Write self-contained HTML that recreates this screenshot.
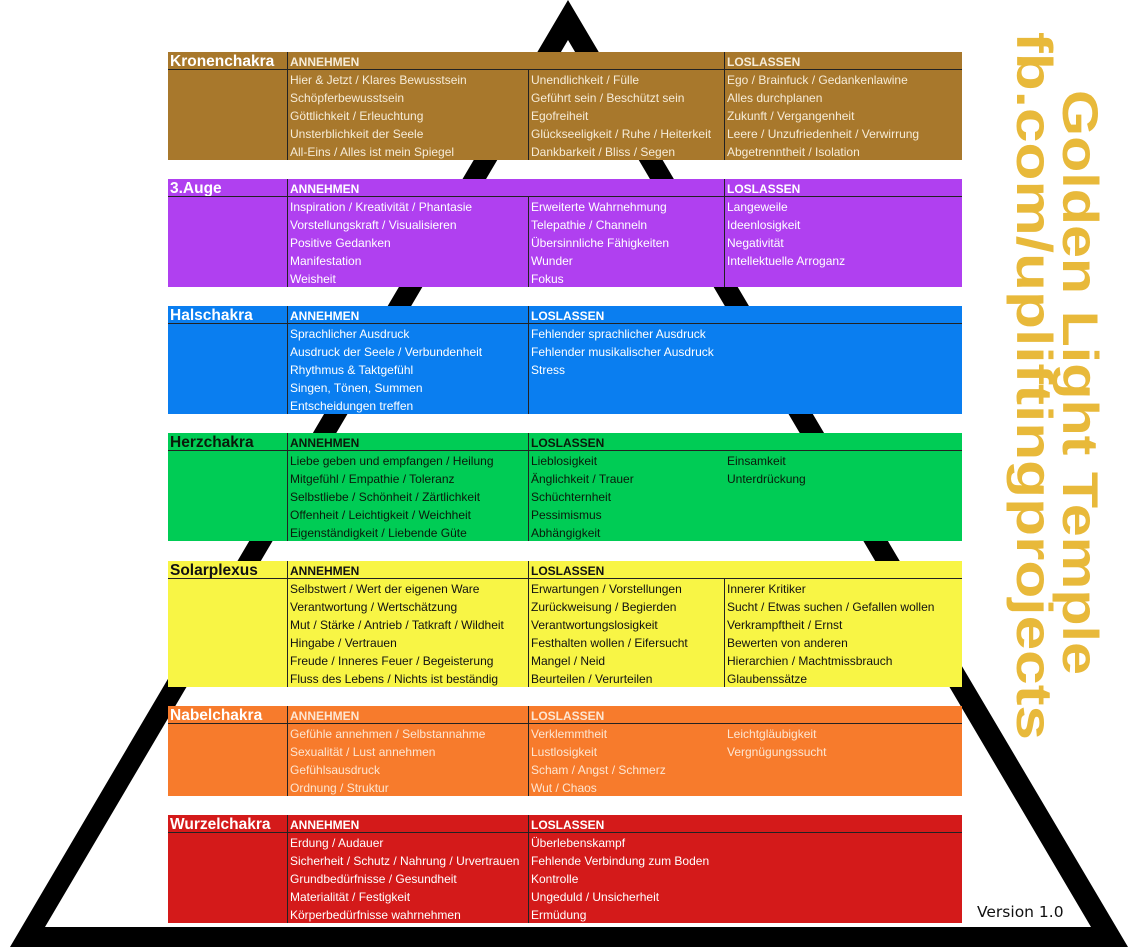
<!DOCTYPE html>
<html><head><meta charset="utf-8"><style>
html,body{margin:0;padding:0;background:#fff;width:1140px;height:947px;overflow:hidden;position:relative;font-family:"Liberation Sans",Arial,sans-serif}
.b{position:absolute;left:168px;width:794px}
.n{position:absolute;left:2px;top:1px;font-weight:bold;font-size:15.5px;line-height:18px;white-space:nowrap}
.h{position:absolute;top:1px;font-weight:bold;font-size:12px;line-height:18px}
.r{position:absolute;font-size:12px;line-height:18px;white-space:nowrap}
.hl{position:absolute;left:0;width:794px;top:17px;height:1px;background:#222}
.vl{position:absolute;width:1px;background:#222;bottom:0}
</style></head><body>
<svg width="1140" height="947" style="position:absolute;left:0;top:0">
<path fill="#000" fill-rule="evenodd" d="M568,0 L1128,947 L10,947 Z M568,40 L45,927 L1091,927 Z"/>
<text x="1063" y="90" fill="#e8b93a" font-family="Liberation Sans" font-weight="bold" font-size="50" transform="rotate(90 1063 90)" textLength="585" lengthAdjust="spacingAndGlyphs">Golden Light Temple</text>
<text x="1017" y="32" fill="#e8b93a" font-family="Liberation Sans" font-weight="bold" font-size="50" transform="rotate(90 1017 32)" textLength="708" lengthAdjust="spacingAndGlyphs">fb.com/upliftingprojects</text>
<text x="977" y="917" fill="#111" font-family="DejaVu Sans" font-size="15.5">Version 1.0</text>
</svg>

<!-- Kronen -->
<div class="b" style="top:52px;height:108px;background:#a8782c;color:#f6ecd8">
<div class="n" style="color:#fff">Kronenchakra</div>
<div class="h" style="left:122px">ANNEHMEN</div><div class="h" style="left:559px">LOSLASSEN</div>
<div class="hl"></div><div class="vl" style="left:119px;top:0"></div><div class="vl" style="left:360px;top:17px"></div><div class="vl" style="left:556px;top:0"></div>
<div class="r" style="left:122px;top:19px">Hier &amp; Jetzt / Klares Bewusstsein<br>Schöpferbewusstsein<br>Göttlichkeit / Erleuchtung<br>Unsterblichkeit der Seele<br>All-Eins / Alles ist mein Spiegel</div>
<div class="r" style="left:363px;top:19px">Unendlichkeit / Fülle<br>Geführt sein / Beschützt sein<br>Egofreiheit<br>Glückseeligkeit / Ruhe / Heiterkeit<br>Dankbarkeit / Bliss / Segen</div>
<div class="r" style="left:559px;top:19px">Ego / Brainfuck / Gedankenlawine<br>Alles durchplanen<br>Zukunft / Vergangenheit<br>Leere / Unzufriedenheit / Verwirrung<br>Abgetrenntheit / Isolation</div>
</div>

<!-- 3.Auge -->
<div class="b" style="top:179px;height:108px;background:#b040f0;color:#fff">
<div class="n">3.Auge</div>
<div class="h" style="left:122px">ANNEHMEN</div><div class="h" style="left:559px">LOSLASSEN</div>
<div class="hl"></div><div class="vl" style="left:119px;top:0"></div><div class="vl" style="left:360px;top:17px"></div><div class="vl" style="left:556px;top:0"></div>
<div class="r" style="left:122px;top:19px">Inspiration / Kreativität / Phantasie<br>Vorstellungskraft / Visualisieren<br>Positive Gedanken<br>Manifestation<br>Weisheit</div>
<div class="r" style="left:363px;top:19px">Erweiterte Wahrnehmung<br>Telepathie / Channeln<br>Übersinnliche Fähigkeiten<br>Wunder<br>Fokus</div>
<div class="r" style="left:559px;top:19px">Langeweile<br>Ideenlosigkeit<br>Negativität<br>Intellektuelle Arroganz</div>
</div>

<!-- Hals -->
<div class="b" style="top:306px;height:108px;background:#0a7ef0;color:#fff">
<div class="n">Halschakra</div>
<div class="h" style="left:122px">ANNEHMEN</div><div class="h" style="left:363px">LOSLASSEN</div>
<div class="hl"></div><div class="vl" style="left:119px;top:0"></div><div class="vl" style="left:360px;top:0"></div>
<div class="r" style="left:122px;top:19px">Sprachlicher Ausdruck<br>Ausdruck der Seele / Verbundenheit<br>Rhythmus &amp; Taktgefühl<br>Singen, Tönen, Summen<br>Entscheidungen treffen</div>
<div class="r" style="left:363px;top:19px">Fehlender sprachlicher Ausdruck<br>Fehlender musikalischer Ausdruck<br>Stress</div>
</div>

<!-- Herz -->
<div class="b" style="top:433px;height:108px;background:#00cc55;color:#0a1a0a">
<div class="n">Herzchakra</div>
<div class="h" style="left:122px">ANNEHMEN</div><div class="h" style="left:363px">LOSLASSEN</div>
<div class="hl"></div><div class="vl" style="left:119px;top:0"></div><div class="vl" style="left:360px;top:0"></div>
<div class="r" style="left:122px;top:19px">Liebe geben und empfangen / Heilung<br>Mitgefühl / Empathie / Toleranz<br>Selbstliebe / Schönheit / Zärtlichkeit<br>Offenheit / Leichtigkeit / Weichheit<br>Eigenständigkeit / Liebende Güte</div>
<div class="r" style="left:363px;top:19px">Lieblosigkeit<br>Änglichkeit / Trauer<br>Schüchternheit<br>Pessimismus<br>Abhängigkeit</div>
<div class="r" style="left:559px;top:19px">Einsamkeit<br>Unterdrückung</div>
</div>

<!-- Solar -->
<div class="b" style="top:561px;height:126px;background:#f8f545;color:#111">
<div class="n">Solarplexus</div>
<div class="h" style="left:122px">ANNEHMEN</div><div class="h" style="left:363px">LOSLASSEN</div>
<div class="hl"></div><div class="vl" style="left:119px;top:0"></div><div class="vl" style="left:360px;top:0"></div><div class="vl" style="left:556px;top:17px"></div>
<div class="r" style="left:122px;top:19px">Selbstwert / Wert der eigenen Ware<br>Verantwortung / Wertschätzung<br>Mut / Stärke / Antrieb / Tatkraft / Wildheit<br>Hingabe / Vertrauen<br>Freude / Inneres Feuer / Begeisterung<br>Fluss des Lebens / Nichts ist beständig</div>
<div class="r" style="left:363px;top:19px">Erwartungen / Vorstellungen<br>Zurückweisung / Begierden<br>Verantwortungslosigkeit<br>Festhalten wollen / Eifersucht<br>Mangel / Neid<br>Beurteilen / Verurteilen</div>
<div class="r" style="left:559px;top:19px">Innerer Kritiker<br>Sucht / Etwas suchen / Gefallen wollen<br>Verkrampftheit / Ernst<br>Bewerten von anderen<br>Hierarchien / Machtmissbrauch<br>Glaubenssätze</div>
</div>

<!-- Nabel -->
<div class="b" style="top:706px;height:90px;background:#f77b2c;color:#fde6d2">
<div class="n" style="color:#fff">Nabelchakra</div>
<div class="h" style="left:122px">ANNEHMEN</div><div class="h" style="left:363px">LOSLASSEN</div>
<div class="hl"></div><div class="vl" style="left:119px;top:0"></div><div class="vl" style="left:360px;top:0"></div>
<div class="r" style="left:122px;top:19px">Gefühle annehmen / Selbstannahme<br>Sexualität / Lust annehmen<br>Gefühlsausdruck<br>Ordnung / Struktur</div>
<div class="r" style="left:363px;top:19px">Verklemmtheit<br>Lustlosigkeit<br>Scham / Angst / Schmerz<br>Wut / Chaos</div>
<div class="r" style="left:559px;top:19px">Leichtgläubigkeit<br>Vergnügungssucht</div>
</div>

<!-- Wurzel -->
<div class="b" style="top:815px;height:108px;background:#d41a1a;color:#fff">
<div class="n">Wurzelchakra</div>
<div class="h" style="left:122px">ANNEHMEN</div><div class="h" style="left:363px">LOSLASSEN</div>
<div class="hl"></div><div class="vl" style="left:119px;top:0"></div><div class="vl" style="left:360px;top:0"></div>
<div class="r" style="left:122px;top:19px">Erdung / Audauer<br>Sicherheit / Schutz / Nahrung / Urvertrauen<br>Grundbedürfnisse / Gesundheit<br>Materialität / Festigkeit<br>Körperbedürfnisse wahrnehmen</div>
<div class="r" style="left:363px;top:19px">Überlebenskampf<br>Fehlende Verbindung zum Boden<br>Kontrolle<br>Ungeduld / Unsicherheit<br>Ermüdung</div>
</div>
</body></html>
